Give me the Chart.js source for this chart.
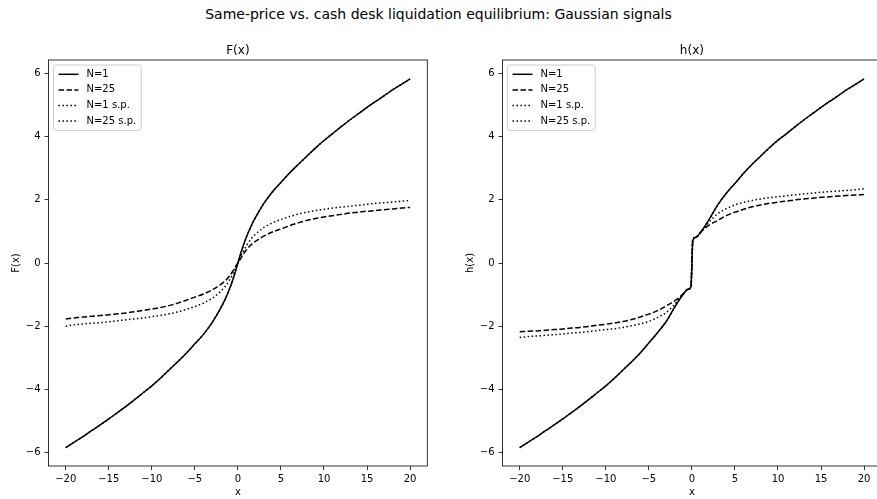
<!DOCTYPE html>
<html>
<head>
<meta charset="utf-8">
<title>Gaussian signals equilibrium</title>
<script src="https://cdn.jsdelivr.net/npm/chart.js@4.4.0/dist/chart.umd.min.js"></script>
<style>
    html, body {
        margin: 0;
        padding: 0;
        width: 877px;
        height: 499px;
        overflow: hidden;
        background: #fff;
        position: relative;
    }
    #suptitle {
        position: absolute;
        left: 0;
        top: 6px;
        width: 877px;
        text-align: center;
        font: 14px/16px "DejaVu Sans", sans-serif;
        color: #000;
    }
    canvas {
        position: absolute;
        top: 0;
    }
</style>
</head>
<body>
<div id="suptitle">Same-price vs. cash desk liquidation equilibrium: Gaussian signals</div>
<canvas id="chartF" width="440" height="499" style="left:0px"></canvas>
<canvas id="chartH" width="440" height="499" style="left:454px"></canvas>
<script>
// sample points (denser around 0 where h jumps)
const xs = [-20, -19, -18, -17, -16, -15, -14, -13, -12, -11, -10, -9, -8, -7, -6, -5, -4, -3, -2, -1.5, -1, -0.5, -0.1,
    0, 0.1, 0.5, 1, 1.5, 2, 3, 4, 5, 6, 7, 8, 9, 10, 11, 12, 13, 14, 15, 16, 17, 18, 19, 20];

const xTicks = [-20, -15, -10, -5, 0, 5, 10, 15, 20];
const yTicks = [-6, -4, -2, 0, 2, 4, 6];

const seriesLabels = ['N=1', 'N=25', 'N=1 s.p.', 'N=25 s.p.'];

// F(x)
const fN1 = [-5.85, -5.67, -5.50, -5.31, -5.13, -4.94, -4.74, -4.54, -4.33, -4.11, -3.89, -3.65, -3.39, -3.13, -2.86, -2.56, -2.26, -1.89, -1.43, -1.16, -0.84, -0.46, -0.09,
    0, 0.09, 0.45, 0.83, 1.15, 1.42, 1.88, 2.25, 2.55, 2.85, 3.12, 3.38, 3.64, 3.88, 4.10, 4.32, 4.53, 4.73, 4.93, 5.12, 5.30, 5.49, 5.66, 5.83];
const fN25 = [-1.77, -1.74, -1.71, -1.69, -1.66, -1.64, -1.61, -1.58, -1.54, -1.50, -1.46, -1.41, -1.35, -1.27, -1.18, -1.08, -0.98, -0.85, -0.68, -0.57, -0.42, -0.22, -0.04,
    0, 0.04, 0.22, 0.42, 0.57, 0.68, 0.85, 0.98, 1.08, 1.18, 1.27, 1.35, 1.41, 1.46, 1.50, 1.54, 1.58, 1.61, 1.64, 1.66, 1.69, 1.71, 1.74, 1.76];
const fN1sp = [-5.85, -5.67, -5.50, -5.31, -5.13, -4.94, -4.74, -4.54, -4.33, -4.11, -3.89, -3.65, -3.39, -3.13, -2.86, -2.56, -2.26, -1.89, -1.43, -1.16, -0.84, -0.46, -0.09,
    0, 0.09, 0.45, 0.83, 1.15, 1.42, 1.88, 2.25, 2.55, 2.85, 3.12, 3.38, 3.64, 3.88, 4.10, 4.32, 4.53, 4.73, 4.93, 5.12, 5.30, 5.49, 5.66, 5.83];
const fN25sp = [-2.00, -1.96, -1.93, -1.91, -1.89, -1.86, -1.83, -1.80, -1.77, -1.74, -1.70, -1.66, -1.61, -1.55, -1.47, -1.38, -1.27, -1.12, -0.90, -0.75, -0.55, -0.30, -0.06,
    0, 0.06, 0.30, 0.55, 0.75, 0.90, 1.12, 1.27, 1.38, 1.47, 1.55, 1.61, 1.66, 1.70, 1.74, 1.77, 1.80, 1.83, 1.86, 1.89, 1.91, 1.93, 1.96, 1.98];

// h(x)
const hN1 = [-5.85, -5.67, -5.50, -5.31, -5.13, -4.94, -4.74, -4.54, -4.33, -4.11, -3.89, -3.65, -3.39, -3.13, -2.85, -2.53, -2.21, -1.86, -1.40, -1.18, -0.99, -0.84, -0.75,
    0, 0.72, 0.82, 0.97, 1.16, 1.38, 1.84, 2.21, 2.52, 2.84, 3.13, 3.39, 3.65, 3.89, 4.10, 4.32, 4.53, 4.73, 4.93, 5.12, 5.30, 5.49, 5.66, 5.83];
const hN25 = [-2.18, -2.16, -2.15, -2.13, -2.11, -2.09, -2.06, -2.04, -2.01, -1.97, -1.94, -1.90, -1.85, -1.79, -1.71, -1.62, -1.51, -1.36, -1.20, -1.10, -0.97, -0.83, -0.75,
    0, 0.72, 0.82, 0.97, 1.10, 1.20, 1.35, 1.50, 1.61, 1.70, 1.78, 1.84, 1.89, 1.93, 1.96, 2.00, 2.03, 2.05, 2.08, 2.10, 2.12, 2.14, 2.15, 2.17];
const hN1sp = [-5.85, -5.67, -5.50, -5.31, -5.13, -4.94, -4.74, -4.54, -4.33, -4.11, -3.89, -3.65, -3.39, -3.13, -2.85, -2.53, -2.21, -1.86, -1.40, -1.18, -0.99, -0.84, -0.75,
    0, 0.72, 0.82, 0.97, 1.16, 1.38, 1.84, 2.21, 2.52, 2.84, 3.13, 3.39, 3.65, 3.89, 4.10, 4.32, 4.53, 4.73, 4.93, 5.12, 5.30, 5.49, 5.66, 5.83];
const hN25sp = [-2.36, -2.33, -2.31, -2.29, -2.27, -2.25, -2.22, -2.20, -2.17, -2.14, -2.11, -2.08, -2.04, -1.99, -1.93, -1.85, -1.73, -1.57, -1.31, -1.15, -0.99, -0.84, -0.75,
    0, 0.72, 0.83, 0.98, 1.14, 1.30, 1.56, 1.72, 1.84, 1.92, 1.98, 2.03, 2.07, 2.10, 2.13, 2.16, 2.19, 2.21, 2.24, 2.26, 2.28, 2.30, 2.32, 2.35];

Chart.defaults.font.family = '"DejaVu Sans", sans-serif';
Chart.defaults.font.size = 10;
Chart.defaults.color = '#000';

// solid, dashed, dotted, dotted (matplotlib-like dash patterns at 1.5px)
const dashes = [[], [5.55, 2.4], [1.5, 2.475], [1.5, 2.475]];

function minusSign(v) {
    return v < 0 ? '\u2212' + Math.abs(v) : String(v);
}

// axes box, subplot title and an in-axes legend
const panelFrame = {
    id: 'panelFrame',
    afterDraw(chart, args, opts) {
        const { ctx, chartArea: a } = chart;
        ctx.save();

        ctx.strokeStyle = '#000';
        ctx.lineWidth = 0.8;
        ctx.strokeRect(a.left, a.top, a.right - a.left, a.bottom - a.top);

        ctx.fillStyle = '#000';
        ctx.font = '12px "DejaVu Sans"';
        ctx.textAlign = 'center';
        ctx.textBaseline = 'alphabetic';
        ctx.fillText(opts.title, (a.left + a.right) / 2, a.top - 6);

        ctx.font = '10px "DejaVu Sans"';
        const items = chart.data.datasets;
        const textW = Math.max(...items.map(d => ctx.measureText(d.label).width));
        const bx = a.left + 5;
        const by = a.top + 5;
        const bw = 33 + textW + 5;
        const bh = 65.4;

        ctx.beginPath();
        ctx.roundRect(bx, by, bw, bh, 2.5);
        ctx.fillStyle = 'rgba(255, 255, 255, 0.8)';
        ctx.fill();
        ctx.strokeStyle = '#cccccc';
        ctx.lineWidth = 1;
        ctx.stroke();

        items.forEach((d, i) => {
            const cy = by + 9.3 + i * 15.6;
            ctx.beginPath();
            ctx.setLineDash(d.borderDash);
            ctx.strokeStyle = d.borderColor;
            ctx.lineWidth = d.borderWidth;
            ctx.moveTo(bx + 5, cy);
            ctx.lineTo(bx + 25, cy);
            ctx.stroke();
            ctx.setLineDash([]);
            ctx.fillStyle = '#000';
            ctx.textAlign = 'left';
            ctx.textBaseline = 'middle';
            ctx.fillText(d.label, bx + 33, cy);
        });

        ctx.restore();
    }
};

function makePanel(canvasId, title, yLabel, series) {
    const datasets = series.map((ys, i) => ({
        label: seriesLabels[i],
        data: xs.map((x, j) => ({ x: x, y: ys[j] })),
        borderColor: '#000',
        borderWidth: 1.5,
        borderDash: dashes[i],
        pointRadius: 0,
        pointHoverRadius: 0,
        fill: false,
        cubicInterpolationMode: 'monotone'
    }));

    const tickGrid = {
        display: true,
        drawOnChartArea: false,
        drawTicks: true,
        tickLength: 4,
        color: '#000',
        lineWidth: 0.8
    };

    return new Chart(document.getElementById(canvasId), {
        type: 'line',
        data: { datasets: datasets },
        options: {
            responsive: false,
            animation: false,
            events: [],
            layout: {
                padding: { left: 0, right: 12.7, top: 60, bottom: 0 }
            },
            plugins: {
                legend: { display: false },
                tooltip: { enabled: false },
                panelFrame: { title: title }
            },
            scales: {
                x: {
                    type: 'linear',
                    min: -22,
                    max: 22,
                    afterBuildTicks: s => { s.ticks = xTicks.map(v => ({ value: v })); },
                    afterFit: s => { s.height = 33; },
                    grid: tickGrid,
                    border: { display: false },
                    ticks: {
                        padding: 3,
                        maxRotation: 0,
                        autoSkip: false,
                        callback: v => minusSign(v)
                    },
                    title: {
                        display: true,
                        text: 'x',
                        font: { size: 10 },
                        padding: { top: 0, bottom: 1 }
                    }
                },
                y: {
                    type: 'linear',
                    min: -6.43,
                    max: 6.43,
                    afterBuildTicks: s => { s.ticks = yTicks.map(v => ({ value: v })); },
                    afterFit: s => { s.width = 48.5; },
                    grid: tickGrid,
                    border: { display: false },
                    ticks: {
                        padding: 4,
                        autoSkip: false,
                        callback: v => minusSign(v)
                    },
                    title: {
                        display: true,
                        text: yLabel,
                        font: { size: 10 },
                        padding: { top: 10, bottom: 0 }
                    }
                }
            }
        },
        plugins: [panelFrame]
    });
}

makePanel('chartF', 'F(x)', 'F(x)', [fN1, fN25, fN1sp, fN25sp]);
makePanel('chartH', 'h(x)', 'h(x)', [hN1, hN25, hN1sp, hN25sp]);
</script>
</body>
</html>
